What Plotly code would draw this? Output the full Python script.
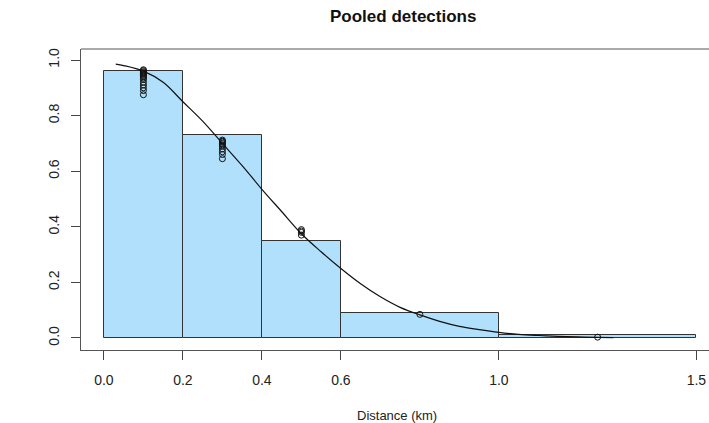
import plotly.graph_objects as go

# ---- data ----
bin_edges = [0.0, 0.2, 0.4, 0.6, 1.0, 1.5]
bin_heights = [0.96, 0.73, 0.35, 0.09, 0.01]

pt_x = ([0.1] * 15) + ([0.3] * 10) + ([0.5] * 4) + [0.8, 1.25]
pt_y = [0.965, 0.962, 0.958, 0.955, 0.952, 0.948, 0.944, 0.94, 0.935, 0.93,
        0.92, 0.91, 0.90, 0.89, 0.875,
        0.712, 0.708, 0.705, 0.70, 0.695, 0.69, 0.68, 0.67, 0.66, 0.645,
        0.39, 0.385, 0.38, 0.37,
        0.085, 0.003]

curve_x = [0.03, 0.05, 0.1, 0.15, 0.2, 0.25, 0.3, 0.35, 0.4, 0.45, 0.5, 0.55,
           0.6, 0.65, 0.7, 0.75, 0.8, 0.85, 0.9, 0.95, 1.0, 1.05, 1.1, 1.15,
           1.2, 1.25, 1.29]
curve_y = [0.985, 0.98, 0.96, 0.92, 0.85, 0.78, 0.70, 0.62, 0.535, 0.455, 0.375,
           0.31, 0.25, 0.195, 0.148, 0.11, 0.083, 0.06, 0.042, 0.03, 0.02, 0.013,
           0.009, 0.006, 0.004, 0.0025, 0.0015]

x_tickvals = [0.0, 0.2, 0.4, 0.6, 1.0, 1.5]
x_ticktext = ["0.0", "0.2", "0.4", "0.6", "1.0", "1.5"]
y_tickvals = [0.0, 0.2, 0.4, 0.6, 0.8, 1.0]
y_ticktext = ["0.0", "0.2", "0.4", "0.6", "0.8", "1.0"]

title_text = "Pooled detections"
x_title = "Distance (km)"
y_title = "Detection probability"

# ---- figure ----
centers = [(a + b) / 2 for a, b in zip(bin_edges[:-1], bin_edges[1:])]
widths = [b - a for a, b in zip(bin_edges[:-1], bin_edges[1:])]

FONT = "Liberation Sans, Arial, sans-serif"
fig = go.Figure()
fig.add_trace(go.Bar(x=centers, y=bin_heights, width=widths,
                     marker=dict(color="#B0E0FC", line=dict(color="#333333", width=1)),
                     hoverinfo="skip"))
fig.add_trace(go.Scatter(x=curve_x, y=curve_y, mode="lines",
                         line=dict(color="#111111", width=1.2, shape="spline")))
fig.add_trace(go.Scatter(x=pt_x, y=pt_y, mode="markers",
                         marker=dict(symbol="circle-open", size=6, color="#111111",
                                     line=dict(width=1))))

fig.update_layout(
    width=709, height=423,
    margin=dict(l=81, r=0, t=49, b=73),
    paper_bgcolor="white", plot_bgcolor="white",
    showlegend=False, bargap=0,
    font=dict(family=FONT, size=13, color="#222222"),
)
fig.update_xaxes(range=[-0.058, 1.532], tickvals=x_tickvals, ticktext=x_ticktext,
                 showgrid=False, zeroline=False, showline=True, mirror=False,
                 linecolor="#555555", linewidth=1,
                 ticks="outside", ticklen=9, tickcolor="#444444", tickwidth=1,
                 ticklabelstandoff=8, tickfont=dict(size=14))
fig.update_yaxes(range=[-0.0432, 1.0396], tickvals=y_tickvals, ticktext=y_ticktext,
                 showgrid=False, zeroline=False, showline=True,
                 linecolor="#555555", linewidth=1,
                 ticks="outside", ticklen=9, tickcolor="#444444", tickwidth=1,
                 tickangle=-90, ticklabelstandoff=6, tickfont=dict(size=14))

# top border of the plot box (no right border visible in the reference)
fig.add_shape(type="line", xref="paper", yref="paper", x0=0, x1=1.01, y0=1, y1=1,
              line=dict(color="#555555", width=1))

fig.add_annotation(text="<b>" + title_text + "</b>", x=0.757, xref="x", y=1.1096, yref="paper",
                   showarrow=False, font=dict(size=17, color="#111111"),
                   xanchor="center", yanchor="middle")
fig.add_annotation(text=x_title, x=0.743, xref="x", y=-0.216, yref="paper",
                   showarrow=False, font=dict(size=13), xanchor="center", yanchor="middle")
fig.add_annotation(text=y_title, x=-0.2127, xref="x", y=0.514, yref="y",
                   showarrow=False, textangle=-90, font=dict(size=13),
                   xanchor="center", yanchor="middle")

fig.write_html("out.html")
